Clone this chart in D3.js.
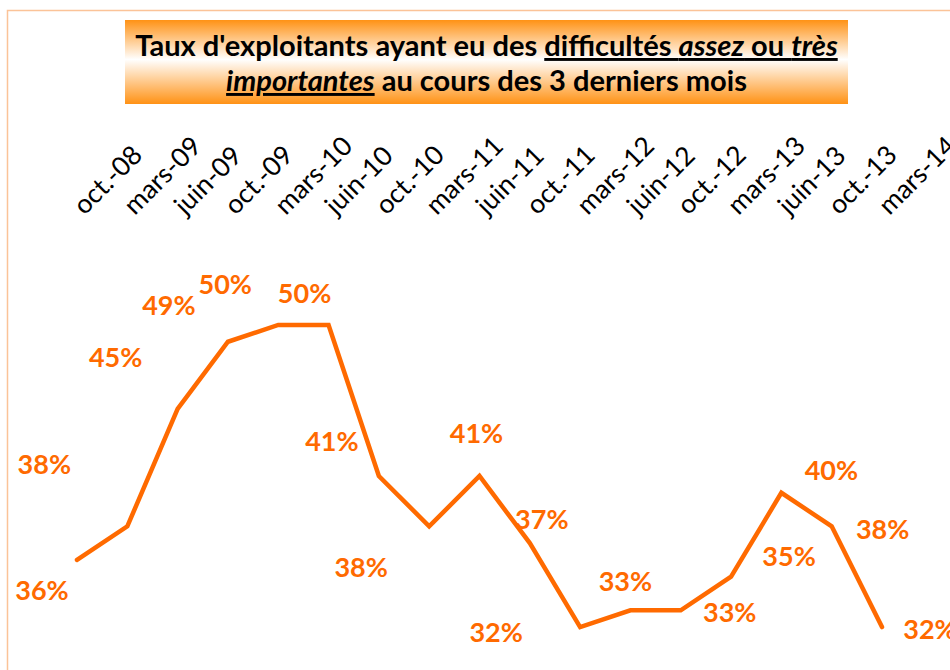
<!DOCTYPE html>
<html><head><meta charset="utf-8">
<script src="https://cdnjs.cloudflare.com/ajax/libs/d3/7.8.5/d3.min.js"></script>
<style>html,body{margin:0;padding:0;background:#fff;overflow:hidden}</style>
</head><body>
<svg id="chart" width="950" height="670"></svg>
<script>
const categories = ["oct.-08","mars-09","juin-09","oct.-09","mars-10","juin-10","oct.-10","mars-11","juin-11","oct.-11","mars-12","juin-12","oct.-12","mars-13","juin-13","oct.-13","mars-14"];
const values = [36,38,45,49,50,50,41,38,41,37,32,33,33,35,40,38,32];
const valueLabels = ["36%","38%","45%","49%","50%","50%","41%","38%","41%","37%","32%","33%","33%","35%","40%","38%","32%"];
// label placement offsets (layout, px) relative to each point
const labelDx = [-35,-83,-62,-59,-53,-24,-47,-68,-3,12,-84,-5,49,58,50,51,48];
const labelDy = [30,-63,-52,-37,-41,-32,-36,40,-44,-25,4,-30,1,-21,-23,2,1];

const svg = d3.select("#chart");
const orange = "#FF6A00";

// outer chart border
svg.append("rect").attr("x",7.5).attr("y",10.5).attr("width",960).attr("height",700)
  .attr("fill","none").attr("stroke","#FBC398").attr("stroke-width",1.5);

// title box
const defs = svg.append("defs");
const grad = defs.append("linearGradient").attr("id","tg").attr("x1",0).attr("y1",0).attr("x2",0).attr("y2",1);
grad.append("stop").attr("offset","0%").attr("stop-color","#FF9215");
grad.append("stop").attr("offset","47%").attr("stop-color","#FFFFFF");
grad.append("stop").attr("offset","100%").attr("stop-color","#FF9215");
svg.append("rect").attr("x",125).attr("y",20).attr("width",723).attr("height",84).attr("fill","url(#tg)");

const titleFont = "Lato";
const t1 = svg.append("text").attr("x",486.5).attr("y",56).attr("text-anchor","middle")
  .attr("font-family",titleFont).attr("font-weight","bold").attr("font-size",25).attr("fill","#000");
t1.append("tspan").text("Taux d'exploitants ayant eu des ");
t1.append("tspan").attr("text-decoration","underline").text("difficultés ");
t1.append("tspan").attr("text-decoration","underline").attr("font-style","italic").text("assez");
t1.append("tspan").attr("text-decoration","underline").text(" ou ");
t1.append("tspan").attr("text-decoration","underline").attr("font-style","italic").text("très");
const t2 = svg.append("text").attr("x",486.5).attr("y",91).attr("text-anchor","middle")
  .attr("font-family",titleFont).attr("font-weight","bold").attr("font-size",25).attr("fill","#000");
t2.append("tspan").attr("text-decoration","underline").attr("font-style","italic").text("importantes");
t2.append("tspan").text(" au cours des 3 derniers mois");
// fit title line 1 to target width
const w1 = t1.node().getComputedTextLength();
const fs = 25 * 703 / w1;
t1.attr("font-size",fs); t2.attr("font-size",fs);

// scales
const x = d3.scalePoint().domain(categories).range([77,882]);
const y = d3.scaleLinear().domain([30,52]).range([660.6,291.4]);

// top axis labels (rotated)
const xAxis = d3.axisTop(x).tickSize(0).tickPadding(0);
const gx = svg.append("g").attr("transform","translate(0,216)").call(xAxis);
gx.select(".domain").remove();
gx.selectAll(".tick text")
  .attr("font-family","Lato").attr("font-size",26.5).attr("fill","#000")
  .attr("text-anchor","start").attr("dy",0).attr("y",0).attr("x",0)
  .attr("transform","translate(7,0) rotate(-45)");

// line
const line = d3.line().x((d,i)=>x(categories[i])).y(d=>y(d));
svg.append("path").datum(values).attr("d",line).attr("fill","none")
  .attr("stroke",orange).attr("stroke-width",4.5).attr("stroke-linejoin","miter").attr("stroke-linecap","round");

// labels
svg.append("g").selectAll("text").data(values).join("text")
  .attr("x",(d,i)=>x(categories[i])+labelDx[i])
  .attr("y",(d,i)=>y(d)+labelDy[i])
  .attr("text-anchor","middle").attr("dominant-baseline","central")
  .attr("font-family","Lato").attr("font-weight","bold").attr("font-size",27)
  .attr("fill",orange).text((d,i)=>valueLabels[i]);
</script>
</body></html>
